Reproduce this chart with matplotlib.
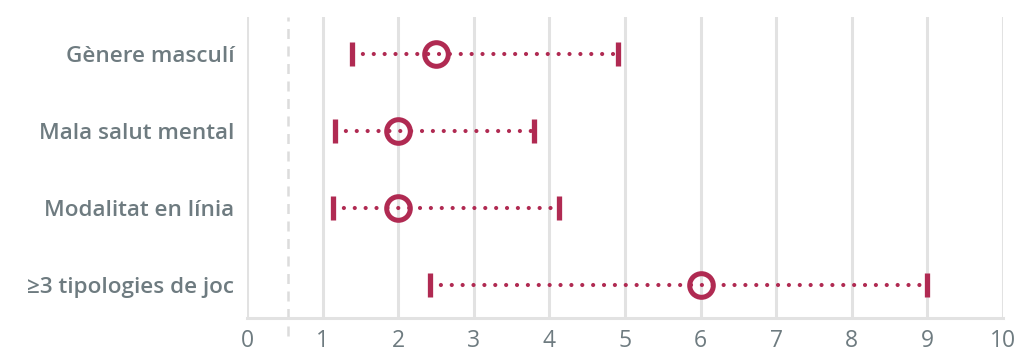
import matplotlib.pyplot as plt

# odds ratios with 95% CI
labels = ["Gènere masculí", "Mala salut mental", "Modalitat en línia", "≥3 tipologies de joc"]
estimate = [2.5, 2.0, 2.0, 6.0]
lower = [1.39, 1.16, 1.14, 2.42]
upper = [4.91, 3.80, 4.13, 9.0]
ref_line = 0.54
xticks = list(range(0, 11))

red = "#B02A52"
grey = "#6E7B80"
grid = "#E2E2E2"

plt.rcParams["font.family"] = ["Open Sans", "DejaVu Sans"]

fig = plt.figure(figsize=(10.27, 3.54), dpi=100)
ax = fig.add_axes([0.2405, 0.1017, 0.7361, 0.8503])

ypos = list(range(len(labels)))
for y, lo, est, hi in zip(ypos, lower, estimate, upper):
	ax.plot([lo, hi], [y, y], color=red, lw=3.0, linestyle=(0, (0.01, 2.6)),
		dash_capstyle="round", zorder=3)
	ax.plot([lo, hi], [y, y], linestyle="none", marker="|", markersize=17,
		mew=3.8, color=red, zorder=4)
	ax.plot([est], [y], linestyle="none", marker="o", markersize=17,
		mfc="none", mec=red, mew=3.6, zorder=5)

ax.axvline(ref_line, ymin=-0.06, ymax=1, color="#DCDCDC", lw=1.8,
	linestyle=(0, (4, 3)), clip_on=False, zorder=1)

ax.set_xlim(0, 10)
ax.set_ylim(3.43, -0.48)
ax.set_xticks(xticks)
ax.set_yticks(ypos)
ax.set_yticklabels(labels, fontsize=16.2, fontweight="semibold", color=grey)
ax.tick_params(axis="x", length=0, labelsize=16.5, labelcolor=grey, pad=8)
ax.tick_params(axis="y", length=0, pad=9)
ax.grid(axis="x", color=grid, lw=2.2, zorder=0)
for side in ["top", "right", "left"]:
	ax.spines[side].set_visible(False)
ax.spines["bottom"].set_color(grid)
ax.spines["bottom"].set_linewidth(2.2)
ax.set_axisbelow(True)

plt.savefig("out.png", dpi=100)
